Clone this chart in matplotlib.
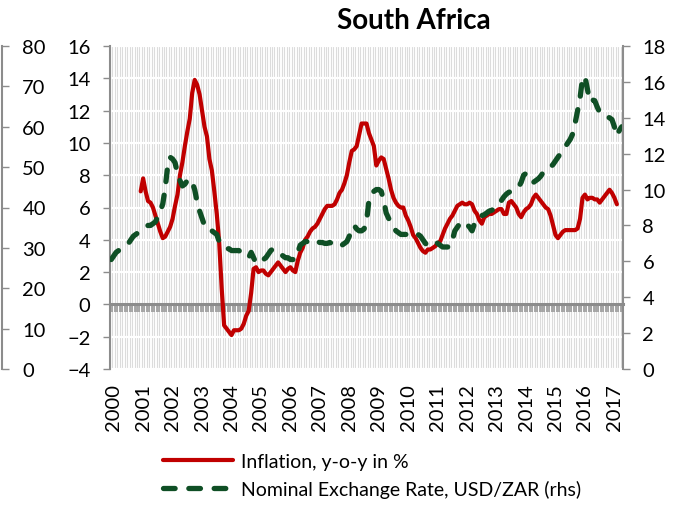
import matplotlib
matplotlib.use("Agg")
import matplotlib.pyplot as plt
import numpy as np

plt.rcParams['font.family'] = ['Lato', 'DejaVu Sans']

# ---------------- data ----------------
title = "South Africa"
years = [str(y) for y in range(2000, 2018)]
legend_labels = ["Inflation, y-o-y in %", "Nominal Exchange Rate, USD/ZAR (rhs)"]

# monthly, first value = Jan 2001 (index 12 of the monthly category axis)
inflation_start = 12
inflation = [
    7.0, 7.8, 7.0, 6.4, 6.3, 6.0, 5.5, 5.0, 4.5, 4.1, 4.2, 4.5,          # 2001
    4.8, 5.3, 6.1, 6.8, 8.0, 8.8, 9.8, 10.7, 11.5, 13.1, 13.9, 13.6,     # 2002
    13.0, 12.0, 11.0, 10.4, 9.0, 8.3, 7.0, 5.6, 3.8, 1.0, -1.3, -1.5,    # 2003
    -1.7, -1.9, -1.6, -1.6, -1.6, -1.5, -1.2, -0.7, -0.4, 0.7, 2.2, 2.3, # 2004
    2.0, 2.1, 2.1, 1.9, 1.8, 2.0, 2.2, 2.4, 2.6, 2.4, 2.2, 2.0,          # 2005
    2.2, 2.3, 2.1, 2.0, 2.7, 3.2, 3.5, 4.0, 4.2, 4.5, 4.7, 4.8,          # 2006
    5.0, 5.3, 5.6, 5.9, 6.1, 6.1, 6.1, 6.2, 6.5, 6.9, 7.1, 7.5,          # 2007
    8.0, 8.8, 9.5, 9.6, 9.8, 10.5, 11.2, 11.2, 11.2, 10.6, 10.2, 9.8,    # 2008
    8.6, 8.9, 9.1, 9.0, 8.4, 7.8, 7.1, 6.6, 6.3, 6.1, 6.0, 6.0,          # 2009
    5.5, 5.2, 4.8, 4.3, 4.1, 3.8, 3.5, 3.3, 3.2, 3.4, 3.4, 3.5,          # 2010
    3.6, 3.8, 3.9, 4.3, 4.7, 5.0, 5.3, 5.5, 5.8, 6.1, 6.2, 6.3,          # 2011
    6.2, 6.2, 6.3, 6.2, 5.8, 5.6, 5.2, 5.0, 5.4, 5.5, 5.6, 5.6,          # 2012
    5.7, 5.8, 5.9, 5.9, 5.6, 5.6, 6.3, 6.4, 6.2, 6.0, 5.6, 5.4,          # 2013
    5.7, 5.9, 6.0, 6.2, 6.6, 6.8, 6.6, 6.4, 6.2, 6.0, 5.9, 5.5,          # 2014
    4.9, 4.3, 4.1, 4.3, 4.5, 4.6, 4.6, 4.6, 4.6, 4.6, 4.7, 5.3,          # 2015
    6.6, 6.8, 6.5, 6.6, 6.6, 6.5, 6.5, 6.3, 6.5, 6.7, 6.9, 7.1,          # 2016
    6.9, 6.6, 6.2,                                                       # 2017
]

# monthly, first value = Jan 2000
exchange_rate = [
    6.1, 6.3, 6.5, 6.6, 6.7, 6.8, 6.9, 7.0, 7.2, 7.4, 7.5, 7.6,          # 2000
    7.7, 7.8, 7.9, 8.0, 8.0, 8.1, 8.2, 8.5, 8.8, 9.2, 10.1, 11.3,        # 2001
    11.8, 11.7, 11.5, 10.9, 10.5, 10.2, 10.3, 10.5, 10.6, 10.4, 10.0, 9.3,  # 2002
    8.8, 8.4, 8.0, 7.8, 7.7, 7.7, 7.6, 7.5, 7.1, 6.9, 6.8, 6.7,          # 2003
    6.7, 6.6, 6.6, 6.6, 6.6, 6.5, 6.4, 6.3, 6.2, 6.5, 6.2, 5.9,          # 2004
    5.9, 6.0, 6.1, 6.2, 6.4, 6.6, 6.7, 6.6, 6.5, 6.4, 6.3, 6.2,          # 2005
    6.2, 6.1, 6.1, 6.1, 6.5, 6.9, 7.0, 7.1, 7.1, 7.2, 7.2, 7.2,          # 2006
    7.1, 7.05, 7.05, 7.0, 7.0, 7.05, 7.0, 6.95, 6.9, 6.8, 6.9, 7.0,      # 2007
    7.1, 7.4, 7.8, 8.0, 7.8, 7.7, 7.7, 7.8, 8.2, 9.4, 9.8, 9.9,          # 2008
    10.0, 10.0, 9.9, 9.4, 8.7, 8.4, 8.2, 7.9, 7.7, 7.6, 7.5, 7.5,        # 2009
    7.5, 7.5, 7.5, 7.55, 7.6, 7.5, 7.4, 7.2, 7.0, 6.9, 7.0, 7.1,         # 2010
    7.1, 7.0, 6.9, 6.8, 6.8, 6.8, 6.8, 7.2, 7.7, 7.9, 8.1, 8.2,          # 2011
    8.2, 8.05, 7.9, 7.7, 8.1, 8.4, 8.5, 8.55, 8.6, 8.7, 8.8, 8.85,       # 2012
    8.9, 9.0, 9.2, 9.4, 9.6, 9.75, 9.85, 9.9, 10.0, 10.05, 10.15, 10.4,  # 2013
    10.8, 10.9, 10.8, 10.7, 10.4, 10.5, 10.6, 10.75, 10.95, 11.1, 11.2, 11.25,  # 2014
    11.4, 11.6, 11.8, 12.0, 12.2, 12.4, 12.6, 12.8, 13.1, 13.7, 14.4, 15.1,     # 2015
    16.2, 16.3, 15.6, 14.9, 15.0, 14.95, 14.6, 14.3, 14.15, 14.1, 14.05, 14.0,  # 2016
    13.9, 13.5, 13.0, 13.3, 13.5,                                        # 2017
]

# ---------------- layout ----------------
W, H = 688, 506
L, R, T, B = 110, 623, 47, 370
fig = plt.figure(figsize=(W / 100, H / 100), dpi=100)
fig.patch.set_facecolor('white')

SPINE = '#8c8c8c'
RED = '#c00000'
GREEN = '#0f4f25'
FS = 14.5

rect = [L / W, 1 - B / H, (R - L) / W, (B - T) / H]
ax = fig.add_axes(rect)
ax2 = ax.twinx()

n = len(exchange_rate)
m_ex = np.arange(n)
m_inf = np.arange(inflation_start, inflation_start + len(inflation))

# main (inflation) axis
ax.set_xlim(-0.5, n - 0.5)
ax.set_ylim(-4, 16)
ax.set_yticks(np.arange(-4, 17, 2))
ax.set_xticks(np.arange(0, n, 12) + 1)
ax.set_xticklabels(years, rotation=90, fontsize=FS)
ax.set_xticks(np.arange(-0.5, n, 1), minor=True)
ax.tick_params(axis='x', which='both', length=0, pad=10)
ax.tick_params(axis='y', direction='out', length=5, width=1, color=SPINE,
               labelsize=FS, pad=9)
ax.grid(which='minor', axis='x', color='#dcdcdc', lw=0.8)
ax.grid(which='major', axis='y', color='white', lw=1.6)
ax.set_axisbelow(True)
for s in ['top', 'bottom', 'right']:
    ax.spines[s].set_visible(False)
ax.spines['left'].set_color(SPINE)
ax.spines['left'].set_linewidth(1.5)

# category axis crossing at zero, with monthly tick marks
sec = ax.secondary_xaxis(4 / 20)
sec.set_zorder(1)
sec.set_xticks(np.arange(-0.5, n, 1))
sec.tick_params(axis='x', direction='out', length=5.5, width=1.2, color='#999999',
                labelbottom=False)
sec.spines['bottom'].set_color('#8c8c8c')
sec.spines['bottom'].set_linewidth(2.2)

line_inf, = ax.plot(m_inf, inflation, color=RED, lw=3, solid_capstyle='round',
                    solid_joinstyle='round', zorder=3)

# right axis: exchange rate
ax2.set_ylim(0, 18)
ax2.set_yticks(np.arange(0, 19, 2))
ax2.tick_params(axis='y', direction='out', length=5, width=1, color=SPINE,
                labelsize=FS, pad=9)
for s in ['top', 'bottom', 'left']:
    ax2.spines[s].set_visible(False)
ax2.spines['right'].set_color(SPINE)
ax2.spines['right'].set_linewidth(1.5)
line_ex, = ax2.plot(m_ex, exchange_rate, color=GREEN, lw=3.8,
                    dash_capstyle='round', dash_joinstyle='round')
line_ex.set_dashes((2.2, 2.6))

# far-left axis (0-80)
ax3 = fig.add_axes([0, rect[1], 1.5 / W, rect[3]])
ax3.patch.set_visible(False)
ax3.set_ylim(0, 80)
ax3.set_yticks(np.arange(0, 81, 10))
ax3.set_xticks([])
ax3.yaxis.tick_right()
ax3.tick_params(axis='y', direction='out', length=5, width=1, color=SPINE,
                labelsize=FS, pad=10)
for s in ['top', 'bottom', 'left']:
    ax3.spines[s].set_visible(False)
ax3.spines['right'].set_color(SPINE)
ax3.spines['right'].set_linewidth(1.5)

# title
fig.text(414 / W, 1 - 21 / H, title, ha='center', va='center',
         fontsize=20, fontweight='bold')

# legend
leg = fig.legend([line_inf, line_ex], legend_labels, loc='upper left',
                 bbox_to_anchor=(163 / W, 1 - 454 / H), frameon=False,
                 fontsize=14, handlelength=3.6, handletextpad=0.4,
                 labelspacing=0.5, borderpad=0, borderaxespad=0)

fig.savefig('out.png', dpi=100)
